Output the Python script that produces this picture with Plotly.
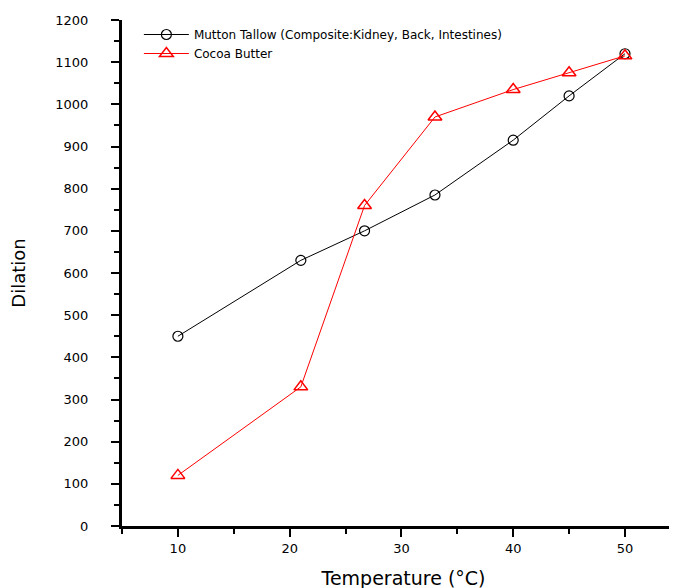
import plotly.graph_objects as go

temperature = [10, 21, 26.7, 33, 40, 45, 50]
mutton_tallow = [450, 630, 700, 785, 915, 1020, 1120]
cocoa_butter = [120, 330, 760, 970, 1035, 1075, 1115]

x_ticks = [10, 20, 30, 40, 50]
y_ticks = list(range(0, 1201, 100))

fig = go.Figure()
fig.add_trace(go.Scatter(
    x=temperature, y=mutton_tallow, mode="lines+markers",
    name="Mutton Tallow (Composite:Kidney, Back, Intestines)",
    line=dict(color="black", width=1),
    marker=dict(symbol="circle-open", size=10, color="black", line=dict(width=1.2)),
))
fig.add_trace(go.Scatter(
    x=temperature, y=cocoa_butter, mode="lines+markers",
    name="Cocoa Butter",
    line=dict(color="red", width=1),
    marker=dict(symbol="triangle-up-open", size=12, color="red", line=dict(width=1.5)),
))

font_family = "DejaVu Sans"
fig.update_layout(
    width=677, height=588,
    margin=dict(l=114, r=0, t=12, b=70, autoexpand=False),
    paper_bgcolor="white", plot_bgcolor="white",
    font=dict(family=font_family, color="black"),
    showlegend=True,
    legend=dict(
        x=0.03, y=1.0, xanchor="left", yanchor="top",
        bgcolor="rgba(0,0,0,0)", font=dict(size=12, family=font_family),
        itemwidth=45, tracegroupgap=0,
    ),
    xaxis=dict(
        range=[5, 55.37], tickvals=x_ticks, ticktext=[str(v) for v in x_ticks],
        showgrid=False, zeroline=False, showline=True, linecolor="black", linewidth=3,
        ticks="outside", ticklen=8, tickwidth=2, tickcolor="black",
        tickfont=dict(size=13, family=font_family), automargin=False,
        minor=dict(tickvals=[5, 15, 25, 35, 45, 55], ticks="outside", ticklen=5, tickwidth=2, tickcolor="black"),
        title=dict(text="Temperature (°C)", font=dict(size=19, family=font_family), standoff=18),
        ticklabelstandoff=0,
    ),
    yaxis=dict(
        range=[0, 1200], tickvals=y_ticks, ticktext=[str(v) for v in y_ticks],
        showgrid=False, zeroline=False, showline=True, linecolor="black", linewidth=3,
        ticks="outside", ticklen=8, tickwidth=2, tickcolor="black",
        tickfont=dict(size=13, family=font_family), automargin=False,
        minor=dict(dtick=50, tick0=0, ticks="outside", ticklen=5, tickwidth=2, tickcolor="black"),
        title=dict(text="Dilation", font=dict(size=18, family=font_family), standoff=27),
        ticklabelstandoff=20,
    ),
)

fig.write_html("out.html")
